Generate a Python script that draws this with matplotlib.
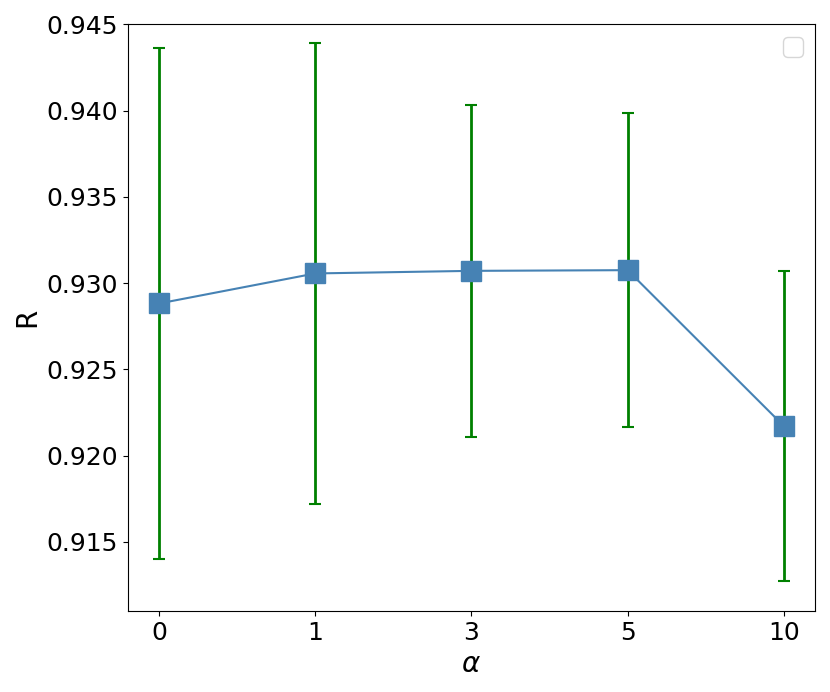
import matplotlib
matplotlib.use('Agg')

import matplotlib.pyplot as plt
import numpy as np

alpha_labels = ['0', '1', '3', '5', '10']
r_mean = [0.92882, 0.93056, 0.93071, 0.93075, 0.92172]
r_err = [0.01480, 0.01336, 0.00960, 0.00910, 0.00896]

x = np.arange(len(alpha_labels))

fig = plt.figure(figsize=(8.3, 6.92), dpi=100)
ax = fig.add_subplot(111)
fig.subplots_adjust(left=0.154, right=0.982, top=0.965, bottom=0.117)

ax.errorbar(x, r_mean, yerr=r_err, fmt='none', ecolor='green', elinewidth=2,
            capsize=4, capthick=1.5, zorder=2)
ax.plot(x, r_mean, color='steelblue', marker='s', markersize=14, linewidth=1.5, zorder=3)

ax.set_xticks(x)
ax.set_xticklabels(alpha_labels)
ax.set_yticks([0.915, 0.920, 0.925, 0.930, 0.935, 0.940, 0.945])
ax.set_ylim(0.9110, 0.9450)
ax.tick_params(labelsize=18)
ax.set_xlabel(r'$\alpha$', fontsize=20)
ax.set_ylabel('R', fontsize=20)
ax.legend(loc='upper right', fontsize=18)

fig.savefig('out.png', dpi=100)
